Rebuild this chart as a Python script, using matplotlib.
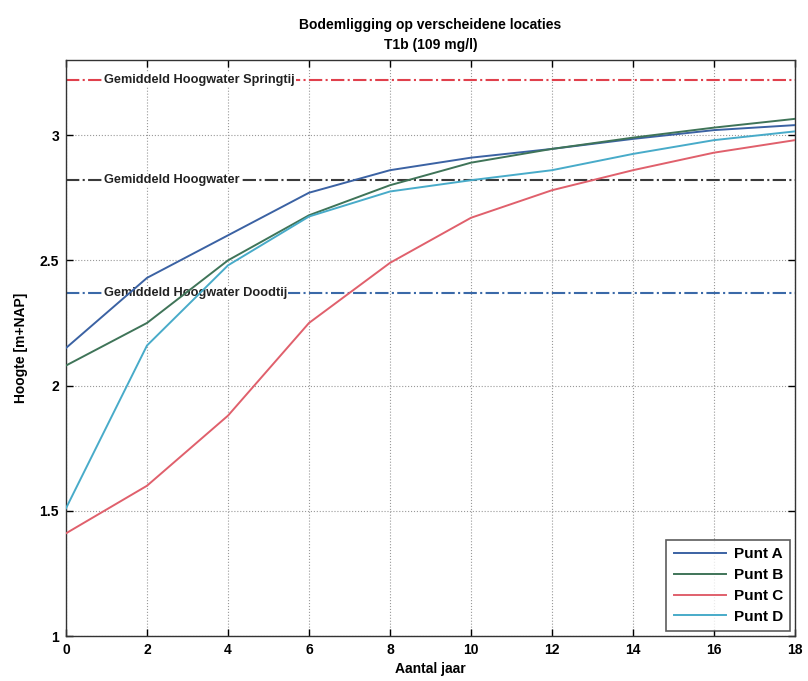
import matplotlib
matplotlib.use("Agg")
import matplotlib.pyplot as plt

plt.rcParams['font.family'] = ['Liberation Sans', 'DejaVu Sans']
plt.rcParams['font.weight'] = 'bold'

# Years since start
jaren = [0, 2, 4, 6, 8, 10, 12, 14, 16, 18]

# Bed level (m+NAP) per location
punt_a = [2.15, 2.43, 2.60, 2.77, 2.86, 2.91, 2.945, 2.985, 3.02, 3.04]
punt_b = [2.08, 2.25, 2.50, 2.68, 2.80, 2.89, 2.945, 2.99, 3.03, 3.065]
punt_c = [1.41, 1.60, 1.88, 2.25, 2.49, 2.67, 2.78, 2.86, 2.93, 2.98]
punt_d = [1.51, 2.16, 2.48, 2.675, 2.775, 2.82, 2.86, 2.925, 2.98, 3.015]

series_names = ['Punt A', 'Punt B', 'Punt C', 'Punt D']
series_colors = ['#3b62a3', '#3f7458', '#e0606c', '#48abc9']

# Reference water levels (m+NAP)
ref_names = ['Gemiddeld Hoogwater Springtij', 'Gemiddeld Hoogwater', 'Gemiddeld Hoogwater Doodtij']
ref_levels = [3.22, 2.82, 2.37]
ref_colors = ['#e0404c', '#3a3a3a', '#3a69a8']

fig = plt.figure(figsize=(8.08, 6.81), dpi=100)
ax = fig.add_axes([66 / 808, 1 - 636 / 681, (795 - 66) / 808, (636 - 60) / 681])

for name, lvl, col in zip(ref_names, ref_levels, ref_colors):
    ax.plot([jaren[0], jaren[-1]], [lvl, lvl], linestyle='-.', color=col, lw=1.5, zorder=2)
    ax.text(0.95, lvl, name, fontsize=9.2, fontweight='bold', color='#222222',
            va='center', ha='left', zorder=3,
            bbox=dict(facecolor='white', edgecolor='none', pad=0.5))

for vals, name, col in zip([punt_a, punt_b, punt_c, punt_d], series_names, series_colors):
    ax.plot(jaren, vals, color=col, lw=1.4, label=name, zorder=4)

ax.set_xlim(0, 18)
ax.set_ylim(1, 3.3)
ax.set_xticks(range(0, 19, 2))
ax.set_yticks([1, 1.5, 2, 2.5, 3])
ax.set_yticklabels(['1', '1.5', '2', '2.5', '3'])
ax.tick_params(direction='in', top=True, right=True, labelsize=10, length=5, width=1, pad=5)
for lab in ax.get_xticklabels() + ax.get_yticklabels():
    lab.set_fontweight('bold')
ax.grid(True, linestyle=':', color='#999999', lw=0.8)
for sp in ax.spines.values():
    sp.set_color('#333333')
    sp.set_linewidth(1.0)

ax.set_xlabel('Aantal jaar', fontsize=10, fontweight='bold', labelpad=4)
ax.set_ylabel('Hoogte [m+NAP]', fontsize=10, fontweight='bold', labelpad=8)
ax.set_title('Bodemligging op verscheidene locaties\nT1b (109 mg/l)', fontsize=10,
             fontweight='bold', pad=8, linespacing=1.5)

leg = ax.legend(loc='lower right', fontsize=11, frameon=True, fancybox=False,
                edgecolor='#333333', borderaxespad=0.3, handlelength=3.4,
                labelspacing=0.45, borderpad=0.5, handletextpad=0.5)
leg.get_frame().set_linewidth(1.2)
for t in leg.get_texts():
    t.set_fontweight('bold')

fig.savefig('out.png', dpi=100)
